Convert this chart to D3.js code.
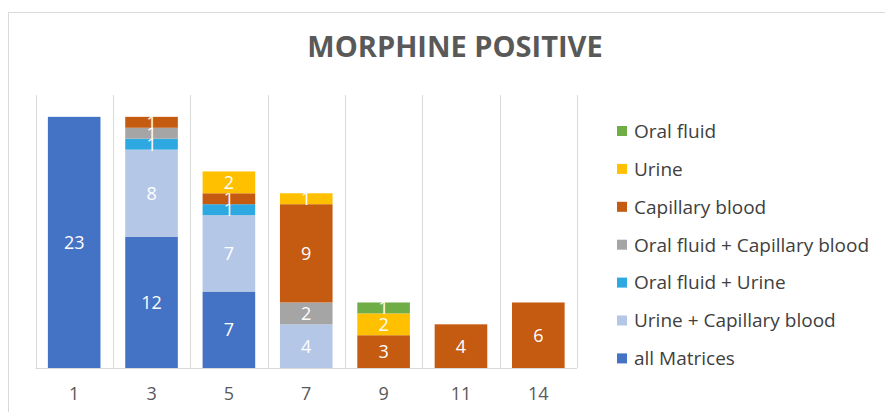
<!DOCTYPE html>
<html>
<head>
<meta charset="utf-8">
<script src="https://cdn.jsdelivr.net/npm/d3@7"></script>
<style>
  body { margin: 0; background: #fff; }
  svg { display: block; font-family: "Open Sans", "Noto Sans", sans-serif; }
</style>
</head>
<body>
<svg id="main" width="885" height="412"></svg>
<script>
// categories on the x axis
const days = ["1", "3", "5", "7", "9", "11", "14"];

// series, bottom of the stack first
const seriesNames = [
  "all Matrices",
  "Urine + Capillary blood",
  "Oral fluid + Urine",
  "Oral fluid + Capillary blood",
  "Capillary blood",
  "Urine",
  "Oral fluid"
];
const allMatrices   = [23, 12, 7, 0, 0, 0, 0];
const urineCapBlood = [0, 8, 7, 4, 0, 0, 0];
const oralUrine     = [0, 1, 1, 0, 0, 0, 0];
const oralCapBlood  = [0, 1, 0, 2, 0, 0, 0];
const capBlood      = [0, 1, 1, 9, 3, 4, 6];
const urine         = [0, 0, 2, 1, 2, 0, 0];
const oralFluid     = [0, 0, 0, 0, 1, 0, 0];

const colors = ["#4472C4", "#B4C7E7", "#2EA8E0", "#A5A5A5", "#C55A11", "#FFC000", "#70AD47"];

const seriesValues = [allMatrices, urineCapBlood, oralUrine, oralCapBlood, capBlood, urine, oralFluid];

// build rows for d3.stack
const rows = days.map((d, i) => {
  const r = { day: d };
  seriesNames.forEach((s, j) => r[s] = seriesValues[j][i]);
  return r;
});

const svg = d3.select('#main');

// chart frame
svg.append('rect')
  .attr('x', 8.5).attr('y', 12.5)
  .attr('width', 900).attr('height', 420)
  .style('fill', 'none')
  .style('stroke', '#d9d9d9');

// title
svg.append('text')
  .attr('x', 455).attr('y', 57)
  .attr('text-anchor', 'middle')
  .style('font-size', '29px')
  .style('font-weight', 'bold')
  .style('fill', '#595959')
  .text('MORPHINE POSITIVE');

const plot = { left: 35.5, right: 577, top: 95, bottom: 368 };

let x = d3.scaleBand()
  .domain(days)
  .range([plot.left, plot.right])
  .paddingInner(0.32)
  .paddingOuter(0.16);

let y = d3.scaleLinear()
  .domain([0, 25])
  .range([plot.bottom, plot.top]);

// vertical grid lines between categories
const gridX = d3.range(days.length + 1).map(i => plot.left + i * (plot.right - plot.left) / days.length);
svg.append('g').selectAll('line').data(gridX).join('line')
  .attr('x1', d => Math.round(d) + 0.5).attr('x2', d => Math.round(d) + 0.5)
  .attr('y1', plot.top).attr('y2', plot.bottom)
  .style('stroke', '#d9d9d9');

// stacked bars
let stack = d3.stack().keys(seriesNames);
let layers = stack(rows);

let layer = svg.append('g').selectAll('g').data(layers).join('g')
  .style('fill', (d, i) => colors[i]);

layer.selectAll('rect').data(d => d.filter(p => p[1] - p[0] > 0)).join('rect')
  .attr('x', d => x(d.data.day))
  .attr('width', x.bandwidth())
  .attr('y', d => y(d[1]))
  .attr('height', d => y(d[0]) - y(d[1]));

// segment labels
layer.selectAll('text').data(d => d.filter(p => p[1] - p[0] > 0)).join('text')
  .attr('x', d => x(d.data.day) + x.bandwidth() / 2)
  .attr('y', d => (y(d[0]) + y(d[1])) / 2)
  .attr('dy', '0.36em')
  .attr('text-anchor', 'middle')
  .style('fill', 'white')
  .style('font-size', '18px')
  .text(d => d[1] - d[0]);

// x axis
let xAxis = d3.axisBottom(x).tickSize(0).tickPadding(19);
let ax = svg.append('g')
  .attr('transform', `translate(0,${plot.bottom})`)
  .call(xAxis);
ax.select('.domain')
  .attr('d', `M${plot.left},0.5H${plot.right}`)
  .style('stroke', '#d9d9d9');
ax.selectAll('text')
  .style('font-family', '"Open Sans", sans-serif')
  .style('font-size', '18px')
  .style('fill', '#595959');

// legend, top entry is the top of the stack
const legendNames = seriesNames.slice().reverse();
const legendColors = colors.slice().reverse();
let legend = svg.append('g').selectAll('g').data(legendNames).join('g')
  .attr('transform', (d, i) => `translate(617,${131 + i * 37.9})`);
legend.append('rect')
  .attr('x', 0).attr('y', -5)
  .attr('width', 10).attr('height', 10)
  .style('fill', (d, i) => legendColors[i]);
legend.append('text')
  .attr('x', 17).attr('dy', '0.36em')
  .style('font-size', '19px')
  .style('fill', '#404040')
  .text(d => d);
</script>
</body>
</html>
